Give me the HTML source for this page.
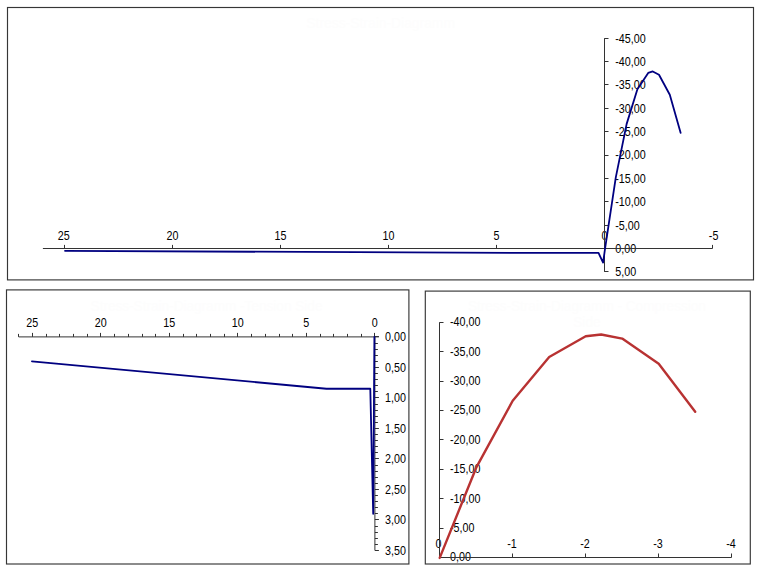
<!DOCTYPE html>
<html><head><meta charset="utf-8"><title>Stress-Strain-Diagramm</title>
<style>html,body{margin:0;padding:0;background:#fff;}svg{display:block;font-family:"Liberation Sans",Arial,sans-serif;}</style></head>
<body><svg width="760" height="570" viewBox="0 0 760 570">
<rect width="760" height="570" fill="#fff"/>
<text transform="translate(380.65 27.6) scale(0.963 1)" text-anchor="middle" font-size="14.4" fill="#fdfdfd">Stress-Strain-Diagramm</text>
<text transform="translate(63.8 239.75) scale(0.895 1)" text-anchor="middle" font-size="12" fill="#000">25</text>
<text transform="translate(172.5 239.75) scale(0.895 1)" text-anchor="middle" font-size="12" fill="#000">20</text>
<text transform="translate(280.5 239.75) scale(0.895 1)" text-anchor="middle" font-size="12" fill="#000">15</text>
<text transform="translate(388.5 239.75) scale(0.895 1)" text-anchor="middle" font-size="12" fill="#000">10</text>
<text transform="translate(496.5 239.75) scale(0.895 1)" text-anchor="middle" font-size="12" fill="#000">5</text>
<text transform="translate(604.5 239.75) scale(0.895 1)" text-anchor="middle" font-size="12" fill="#000">0</text>
<text transform="translate(713.6 239.75) scale(0.895 1)" text-anchor="middle" font-size="12" fill="#000">-5</text>
<text transform="translate(615.3 42.62) scale(0.895 1)" text-anchor="start" font-size="12" fill="#000">-45,00</text>
<text transform="translate(615.3 65.98) scale(0.895 1)" text-anchor="start" font-size="12" fill="#000">-40,00</text>
<text transform="translate(615.3 89.34) scale(0.895 1)" text-anchor="start" font-size="12" fill="#000">-35,00</text>
<text transform="translate(615.3 112.71) scale(0.895 1)" text-anchor="start" font-size="12" fill="#000">-30,00</text>
<text transform="translate(615.3 136.08) scale(0.895 1)" text-anchor="start" font-size="12" fill="#000">-25,00</text>
<text transform="translate(615.3 159.44) scale(0.895 1)" text-anchor="start" font-size="12" fill="#000">-20,00</text>
<text transform="translate(615.3 182.81) scale(0.895 1)" text-anchor="start" font-size="12" fill="#000">-15,00</text>
<text transform="translate(615.3 206.17) scale(0.895 1)" text-anchor="start" font-size="12" fill="#000">-10,00</text>
<text transform="translate(615.3 229.53) scale(0.895 1)" text-anchor="start" font-size="12" fill="#000">-5,00</text>
<text transform="translate(615.3 252.9) scale(0.895 1)" text-anchor="start" font-size="12" fill="#000">0,00</text>
<text transform="translate(615.3 276.26) scale(0.895 1)" text-anchor="start" font-size="12" fill="#000">5,00</text>
<text transform="translate(206.5 311) scale(0.944 1)" text-anchor="middle" font-size="14.4" fill="#fdfdfd">Stress-Strain-Diagramm -Tension Side</text>
<text transform="translate(32.3 326.95) scale(0.895 1)" text-anchor="middle" font-size="12" fill="#000">25</text>
<text transform="translate(100.8 326.95) scale(0.895 1)" text-anchor="middle" font-size="12" fill="#000">20</text>
<text transform="translate(169.3 326.95) scale(0.895 1)" text-anchor="middle" font-size="12" fill="#000">15</text>
<text transform="translate(237.8 326.95) scale(0.895 1)" text-anchor="middle" font-size="12" fill="#000">10</text>
<text transform="translate(306.3 326.95) scale(0.895 1)" text-anchor="middle" font-size="12" fill="#000">5</text>
<text transform="translate(374.8 326.95) scale(0.895 1)" text-anchor="middle" font-size="12" fill="#000">0</text>
<text transform="translate(385 341.2) scale(0.895 1)" text-anchor="start" font-size="12" fill="#000">0,00</text>
<text transform="translate(385 371.7) scale(0.895 1)" text-anchor="start" font-size="12" fill="#000">0,50</text>
<text transform="translate(385 402.2) scale(0.895 1)" text-anchor="start" font-size="12" fill="#000">1,00</text>
<text transform="translate(385 432.7) scale(0.895 1)" text-anchor="start" font-size="12" fill="#000">1,50</text>
<text transform="translate(385 463.2) scale(0.895 1)" text-anchor="start" font-size="12" fill="#000">2,00</text>
<text transform="translate(385 493.7) scale(0.895 1)" text-anchor="start" font-size="12" fill="#000">2,50</text>
<text transform="translate(385 524.2) scale(0.895 1)" text-anchor="start" font-size="12" fill="#000">3,00</text>
<text transform="translate(385 554.7) scale(0.895 1)" text-anchor="start" font-size="12" fill="#000">3,50</text>
<text transform="translate(586.9 311.4) scale(0.945 1)" text-anchor="middle" font-size="14.4" fill="#fdfdfd">Stress-Strain-Diagramm - Compression</text>
<text transform="translate(586.9 326.5) scale(0.945 1)" text-anchor="middle" font-size="14.4" fill="#fdfdfd">Side</text>
<text transform="translate(438.5 547.7) scale(0.895 1)" text-anchor="middle" font-size="12" fill="#000">0</text>
<text transform="translate(512 547.7) scale(0.895 1)" text-anchor="middle" font-size="12" fill="#000">-1</text>
<text transform="translate(585 547.7) scale(0.895 1)" text-anchor="middle" font-size="12" fill="#000">-2</text>
<text transform="translate(658 547.7) scale(0.895 1)" text-anchor="middle" font-size="12" fill="#000">-3</text>
<text transform="translate(731 547.7) scale(0.895 1)" text-anchor="middle" font-size="12" fill="#000">-4</text>
<text transform="translate(450.05 326.2) scale(0.895 1)" text-anchor="start" font-size="12" fill="#000">-40,00</text>
<text transform="translate(450.05 355.6) scale(0.895 1)" text-anchor="start" font-size="12" fill="#000">-35,00</text>
<text transform="translate(450.05 385) scale(0.895 1)" text-anchor="start" font-size="12" fill="#000">-30,00</text>
<text transform="translate(450.05 414.4) scale(0.895 1)" text-anchor="start" font-size="12" fill="#000">-25,00</text>
<text transform="translate(450.05 443.8) scale(0.895 1)" text-anchor="start" font-size="12" fill="#000">-20,00</text>
<text transform="translate(450.05 473.2) scale(0.895 1)" text-anchor="start" font-size="12" fill="#000">-15,00</text>
<text transform="translate(450.05 502.6) scale(0.895 1)" text-anchor="start" font-size="12" fill="#000">-10,00</text>
<text transform="translate(450.05 532) scale(0.895 1)" text-anchor="start" font-size="12" fill="#000">-5,00</text>
<text transform="translate(450.05 561.4) scale(0.895 1)" text-anchor="start" font-size="12" fill="#000">0,00</text>
<rect x="7.5" y="7.5" width="746" height="272.4" fill="none" stroke="#363636" stroke-width="1.15"/>
<line x1="42.9" y1="248.5" x2="712.5" y2="248.5" stroke="#333" stroke-width="1"/>
<line x1="64.5" y1="244.9" x2="64.5" y2="248.5" stroke="#333" stroke-width="1"/>
<line x1="172.5" y1="244.9" x2="172.5" y2="248.5" stroke="#333" stroke-width="1"/>
<line x1="280.5" y1="244.9" x2="280.5" y2="248.5" stroke="#333" stroke-width="1"/>
<line x1="388.5" y1="244.9" x2="388.5" y2="248.5" stroke="#333" stroke-width="1"/>
<line x1="496.5" y1="244.9" x2="496.5" y2="248.5" stroke="#333" stroke-width="1"/>
<line x1="604.5" y1="244.9" x2="604.5" y2="248.5" stroke="#333" stroke-width="1"/>
<line x1="712.5" y1="244.9" x2="712.5" y2="248.5" stroke="#333" stroke-width="1"/>
<line x1="604.5" y1="38.22" x2="604.5" y2="271.87" stroke="#333" stroke-width="1"/>
<line x1="604.5" y1="38.5" x2="608.5" y2="38.5" stroke="#333" stroke-width="1"/>
<line x1="604.5" y1="61.5" x2="608.5" y2="61.5" stroke="#333" stroke-width="1"/>
<line x1="604.5" y1="84.5" x2="608.5" y2="84.5" stroke="#333" stroke-width="1"/>
<line x1="604.5" y1="108.5" x2="608.5" y2="108.5" stroke="#333" stroke-width="1"/>
<line x1="604.5" y1="131.5" x2="608.5" y2="131.5" stroke="#333" stroke-width="1"/>
<line x1="604.5" y1="155.5" x2="608.5" y2="155.5" stroke="#333" stroke-width="1"/>
<line x1="604.5" y1="178.5" x2="608.5" y2="178.5" stroke="#333" stroke-width="1"/>
<line x1="604.5" y1="201.5" x2="608.5" y2="201.5" stroke="#333" stroke-width="1"/>
<line x1="604.5" y1="225.5" x2="608.5" y2="225.5" stroke="#333" stroke-width="1"/>
<line x1="604.5" y1="248.5" x2="608.5" y2="248.5" stroke="#333" stroke-width="1"/>
<line x1="604.5" y1="271.5" x2="608.5" y2="271.5" stroke="#333" stroke-width="1"/>
<rect x="6.5" y="289.9" width="402.4" height="274.1" fill="none" stroke="#363636" stroke-width="1.15"/>
<line x1="18.7" y1="336.9" x2="378.9" y2="336.9" stroke="#333" stroke-width="1"/>
<line x1="374.5" y1="332.9" x2="374.5" y2="336.9" stroke="#333" stroke-width="1"/>
<line x1="361.5" y1="333.9" x2="361.5" y2="336.9" stroke="#333" stroke-width="1"/>
<line x1="347.5" y1="333.9" x2="347.5" y2="336.9" stroke="#333" stroke-width="1"/>
<line x1="333.5" y1="333.9" x2="333.5" y2="336.9" stroke="#333" stroke-width="1"/>
<line x1="320.5" y1="333.9" x2="320.5" y2="336.9" stroke="#333" stroke-width="1"/>
<line x1="306.5" y1="332.9" x2="306.5" y2="336.9" stroke="#333" stroke-width="1"/>
<line x1="292.5" y1="333.9" x2="292.5" y2="336.9" stroke="#333" stroke-width="1"/>
<line x1="279.5" y1="333.9" x2="279.5" y2="336.9" stroke="#333" stroke-width="1"/>
<line x1="265.5" y1="333.9" x2="265.5" y2="336.9" stroke="#333" stroke-width="1"/>
<line x1="251.5" y1="333.9" x2="251.5" y2="336.9" stroke="#333" stroke-width="1"/>
<line x1="237.5" y1="332.9" x2="237.5" y2="336.9" stroke="#333" stroke-width="1"/>
<line x1="224.5" y1="333.9" x2="224.5" y2="336.9" stroke="#333" stroke-width="1"/>
<line x1="210.5" y1="333.9" x2="210.5" y2="336.9" stroke="#333" stroke-width="1"/>
<line x1="196.5" y1="333.9" x2="196.5" y2="336.9" stroke="#333" stroke-width="1"/>
<line x1="183.5" y1="333.9" x2="183.5" y2="336.9" stroke="#333" stroke-width="1"/>
<line x1="169.5" y1="332.9" x2="169.5" y2="336.9" stroke="#333" stroke-width="1"/>
<line x1="155.5" y1="333.9" x2="155.5" y2="336.9" stroke="#333" stroke-width="1"/>
<line x1="142.5" y1="333.9" x2="142.5" y2="336.9" stroke="#333" stroke-width="1"/>
<line x1="128.5" y1="333.9" x2="128.5" y2="336.9" stroke="#333" stroke-width="1"/>
<line x1="114.5" y1="333.9" x2="114.5" y2="336.9" stroke="#333" stroke-width="1"/>
<line x1="100.5" y1="332.9" x2="100.5" y2="336.9" stroke="#333" stroke-width="1"/>
<line x1="87.5" y1="333.9" x2="87.5" y2="336.9" stroke="#333" stroke-width="1"/>
<line x1="73.5" y1="333.9" x2="73.5" y2="336.9" stroke="#333" stroke-width="1"/>
<line x1="59.5" y1="333.9" x2="59.5" y2="336.9" stroke="#333" stroke-width="1"/>
<line x1="46.5" y1="333.9" x2="46.5" y2="336.9" stroke="#333" stroke-width="1"/>
<line x1="32.5" y1="332.9" x2="32.5" y2="336.9" stroke="#333" stroke-width="1"/>
<line x1="18.5" y1="333.9" x2="18.5" y2="336.9" stroke="#333" stroke-width="1"/>
<line x1="374.9" y1="336.9" x2="374.9" y2="550.4" stroke="#333" stroke-width="1"/>
<line x1="374.9" y1="336.5" x2="378.9" y2="336.5" stroke="#333" stroke-width="1"/>
<line x1="374.9" y1="343.5" x2="377.9" y2="343.5" stroke="#333" stroke-width="1"/>
<line x1="374.9" y1="349.5" x2="377.9" y2="349.5" stroke="#333" stroke-width="1"/>
<line x1="374.9" y1="355.5" x2="377.9" y2="355.5" stroke="#333" stroke-width="1"/>
<line x1="374.9" y1="361.5" x2="377.9" y2="361.5" stroke="#333" stroke-width="1"/>
<line x1="374.9" y1="367.5" x2="378.9" y2="367.5" stroke="#333" stroke-width="1"/>
<line x1="374.9" y1="373.5" x2="377.9" y2="373.5" stroke="#333" stroke-width="1"/>
<line x1="374.9" y1="379.5" x2="377.9" y2="379.5" stroke="#333" stroke-width="1"/>
<line x1="374.9" y1="385.5" x2="377.9" y2="385.5" stroke="#333" stroke-width="1"/>
<line x1="374.9" y1="391.5" x2="377.9" y2="391.5" stroke="#333" stroke-width="1"/>
<line x1="374.9" y1="397.5" x2="378.9" y2="397.5" stroke="#333" stroke-width="1"/>
<line x1="374.9" y1="404.5" x2="377.9" y2="404.5" stroke="#333" stroke-width="1"/>
<line x1="374.9" y1="410.5" x2="377.9" y2="410.5" stroke="#333" stroke-width="1"/>
<line x1="374.9" y1="416.5" x2="377.9" y2="416.5" stroke="#333" stroke-width="1"/>
<line x1="374.9" y1="422.5" x2="377.9" y2="422.5" stroke="#333" stroke-width="1"/>
<line x1="374.9" y1="428.5" x2="378.9" y2="428.5" stroke="#333" stroke-width="1"/>
<line x1="374.9" y1="434.5" x2="377.9" y2="434.5" stroke="#333" stroke-width="1"/>
<line x1="374.9" y1="440.5" x2="377.9" y2="440.5" stroke="#333" stroke-width="1"/>
<line x1="374.9" y1="446.5" x2="377.9" y2="446.5" stroke="#333" stroke-width="1"/>
<line x1="374.9" y1="452.5" x2="377.9" y2="452.5" stroke="#333" stroke-width="1"/>
<line x1="374.9" y1="458.5" x2="378.9" y2="458.5" stroke="#333" stroke-width="1"/>
<line x1="374.9" y1="465.5" x2="377.9" y2="465.5" stroke="#333" stroke-width="1"/>
<line x1="374.9" y1="471.5" x2="377.9" y2="471.5" stroke="#333" stroke-width="1"/>
<line x1="374.9" y1="477.5" x2="377.9" y2="477.5" stroke="#333" stroke-width="1"/>
<line x1="374.9" y1="483.5" x2="377.9" y2="483.5" stroke="#333" stroke-width="1"/>
<line x1="374.9" y1="489.5" x2="378.9" y2="489.5" stroke="#333" stroke-width="1"/>
<line x1="374.9" y1="495.5" x2="377.9" y2="495.5" stroke="#333" stroke-width="1"/>
<line x1="374.9" y1="501.5" x2="377.9" y2="501.5" stroke="#333" stroke-width="1"/>
<line x1="374.9" y1="507.5" x2="377.9" y2="507.5" stroke="#333" stroke-width="1"/>
<line x1="374.9" y1="513.5" x2="377.9" y2="513.5" stroke="#333" stroke-width="1"/>
<line x1="374.9" y1="519.5" x2="378.9" y2="519.5" stroke="#333" stroke-width="1"/>
<line x1="374.9" y1="526.5" x2="377.9" y2="526.5" stroke="#333" stroke-width="1"/>
<line x1="374.9" y1="532.5" x2="377.9" y2="532.5" stroke="#333" stroke-width="1"/>
<line x1="374.9" y1="538.5" x2="377.9" y2="538.5" stroke="#333" stroke-width="1"/>
<line x1="374.9" y1="544.5" x2="377.9" y2="544.5" stroke="#333" stroke-width="1"/>
<line x1="374.9" y1="550.5" x2="378.9" y2="550.5" stroke="#333" stroke-width="1"/>
<rect x="425.3" y="291.1" width="325" height="272.9" fill="none" stroke="#363636" stroke-width="1.15"/>
<line x1="439.5" y1="557.5" x2="731.5" y2="557.5" stroke="#333" stroke-width="1"/>
<line x1="439.5" y1="553.5" x2="439.5" y2="557.5" stroke="#333" stroke-width="1"/>
<line x1="512.5" y1="553.5" x2="512.5" y2="557.5" stroke="#333" stroke-width="1"/>
<line x1="585.5" y1="553.5" x2="585.5" y2="557.5" stroke="#333" stroke-width="1"/>
<line x1="658.5" y1="553.5" x2="658.5" y2="557.5" stroke="#333" stroke-width="1"/>
<line x1="731.5" y1="553.5" x2="731.5" y2="557.5" stroke="#333" stroke-width="1"/>
<line x1="439.5" y1="322.3" x2="439.5" y2="557.5" stroke="#333" stroke-width="1"/>
<line x1="439.5" y1="322.5" x2="443.5" y2="322.5" stroke="#333" stroke-width="1"/>
<line x1="439.5" y1="351.5" x2="443.5" y2="351.5" stroke="#333" stroke-width="1"/>
<line x1="439.5" y1="381.5" x2="443.5" y2="381.5" stroke="#333" stroke-width="1"/>
<line x1="439.5" y1="410.5" x2="443.5" y2="410.5" stroke="#333" stroke-width="1"/>
<line x1="439.5" y1="439.5" x2="443.5" y2="439.5" stroke="#333" stroke-width="1"/>
<line x1="439.5" y1="469.5" x2="443.5" y2="469.5" stroke="#333" stroke-width="1"/>
<line x1="439.5" y1="498.5" x2="443.5" y2="498.5" stroke="#333" stroke-width="1"/>
<line x1="439.5" y1="528.5" x2="443.5" y2="528.5" stroke="#333" stroke-width="1"/>
<line x1="439.5" y1="557.5" x2="443.5" y2="557.5" stroke="#333" stroke-width="1"/>
<polyline points="65,250.87 529.4,252.97 598.52,252.97 603.1,262.55 605,249 615.8,177.31 626.6,124.11 637.4,89.33 648.2,72.89 652.78,71.43 659,74.71 669.8,94.71 680.6,132.84" fill="none" stroke="#000080" stroke-width="1.8" stroke-linejoin="round" stroke-linecap="round"/>
<polyline points="31.9,361.3 326.45,388.75 370.29,388.75 373.2,513.8 374.4,336.9" fill="none" stroke="#000080" stroke-width="1.8" stroke-linejoin="round" stroke-linecap="round"/>
<polyline points="439.7,557.9 476.2,467.69 512.7,400.76 549.2,356.99 585.7,336.3 601.18,334.47 622.2,338.59 658.7,363.76 695.2,411.74" fill="none" stroke="#B83232" stroke-width="2.4" stroke-linejoin="round" stroke-linecap="round"/>
</svg></body></html>
